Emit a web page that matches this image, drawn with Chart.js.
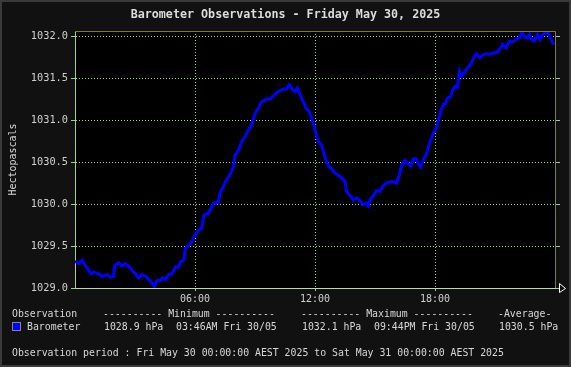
<!DOCTYPE html>
<html lang="en">
<head>
    <meta charset="UTF-8">
    <title>Barometer Observations</title>
    <script src="https://cdn.jsdelivr.net/npm/chart.js"></script>
    <style>
        body {
            margin: 0;
            background: #111;
        }

        .frame {
            position: absolute;
            left: 0;
            top: 0;
            width: 571px;
            height: 367px;
            box-sizing: border-box;
            border: 2px solid #3a3a3a;
            background: #111;
        }

        canvas {
            position: absolute;
            left: 0;
            top: 0;
        }

        .txt {
            position: absolute;
            font-family: 'DejaVu Sans Mono', monospace;
            font-size: 9.85px;
            color: #d8d8d8;
            white-space: pre;
            line-height: 12px;
        }

        .title {
            position: absolute;
            left: 0;
            width: 571px;
            top: 7px;
            text-align: center;
            font-family: 'DejaVu Sans Mono', monospace;
            font-weight: bold;
            font-size: 11.7px;
            color: #dcdcdc;
            white-space: pre;
        }

        .swatch {
            position: absolute;
            left: 12px;
            top: 322px;
            width: 7px;
            height: 7px;
            background: #0000ff;
            border: 1px solid #888;
        }
    </style>
</head>
<body>

    <div class="frame"></div>
    <canvas id="baroChart" width="571" height="367"></canvas>

    <div class="title">Barometer Observations - Friday May 30, 2025</div>

    <div class="txt" style="left:12px; top:308px;">Observation</div>
    <div class="txt" style="left:103px; top:308px;">---------- Minimum ----------</div>
    <div class="txt" style="left:301px; top:308px;">---------- Maximum ----------</div>
    <div class="txt" style="left:498px; top:308px;">-Average-</div>

    <div class="swatch"></div>
    <div class="txt" style="left:27px; top:321px;">Barometer</div>
    <div class="txt" style="left:104px; top:321px;">1028.9 hPa</div>
    <div class="txt" style="left:176px; top:321px;">03:46AM Fri 30/05</div>
    <div class="txt" style="left:302px; top:321px;">1032.1 hPa</div>
    <div class="txt" style="left:374px; top:321px;">09:44PM Fri 30/05</div>
    <div class="txt" style="left:499px; top:321px;">1030.5 hPa</div>

    <div class="txt" style="left:12px; top:347px;">Observation period : Fri May 30 00:00:00 AEST 2025 to Sat May 31 00:00:00 AEST 2025</div>

    <script>
        // time of day in hours
        const hours = [
            0.00, 0.18, 0.35, 0.52, 0.68, 0.80, 0.93, 1.18, 1.35, 1.60,
            1.77, 1.93, 1.98, 2.18, 2.35, 2.52, 2.68, 2.85, 3.02, 3.18,
            3.35, 3.52, 3.68, 3.85, 3.97, 4.10, 4.27, 4.38, 4.52, 4.68,
            4.85, 5.02, 5.18, 5.27, 5.43, 5.52, 5.68, 5.80, 6.00, 6.17,
            6.33, 6.45, 6.67, 6.92, 7.17, 7.25, 7.42, 7.58, 7.75, 7.92,
            8.00, 8.17, 8.33, 8.50, 8.67, 8.83, 9.00, 9.17, 9.33, 9.58,
            9.75, 9.92, 10.17, 10.42, 10.58, 10.70, 10.83, 11.00, 11.12, 11.25,
            11.42, 11.55, 11.72, 11.83, 11.92, 12.00, 12.17, 12.33, 12.45, 12.58,
            12.72, 12.83, 12.95, 13.12, 13.33, 13.50, 13.58, 13.75, 13.92, 14.08,
            14.25, 14.42, 14.58, 14.67, 14.75, 14.92, 15.08, 15.25, 15.38, 15.58,
            15.83, 16.08, 16.22, 16.33, 16.50, 16.67, 16.78, 16.92, 17.05, 17.17,
            17.28, 17.42, 17.58, 17.72, 17.92, 18.08, 18.17, 18.28, 18.42, 18.55,
            18.62, 18.78, 18.88, 19.00, 19.12, 19.22, 19.33, 19.50, 19.67, 19.83,
            19.97, 20.08, 20.25, 20.42, 20.58, 20.75, 20.92, 21.08, 21.25, 21.38,
            21.55, 21.72, 21.88, 22.05, 22.22, 22.35, 22.50, 22.62, 22.72, 22.83,
            22.95, 23.12, 23.25, 23.38, 23.55, 23.67, 23.78, 23.95
        ];

        // barometer in hPa
        const pressure = [
            1029.32, 1029.29, 1029.33, 1029.27, 1029.21, 1029.17, 1029.19, 1029.17, 1029.14, 1029.16,
            1029.13, 1029.14, 1029.27, 1029.30, 1029.26, 1029.29, 1029.26, 1029.21, 1029.17, 1029.12,
            1029.16, 1029.14, 1029.10, 1029.06, 1029.02, 1029.09, 1029.09, 1029.12, 1029.10, 1029.16,
            1029.17, 1029.25, 1029.25, 1029.31, 1029.33, 1029.47, 1029.51, 1029.54, 1029.63, 1029.69,
            1029.71, 1029.87, 1029.89, 1030.01, 1030.02, 1030.13, 1030.21, 1030.29, 1030.35, 1030.44,
            1030.58, 1030.64, 1030.74, 1030.80, 1030.88, 1030.94, 1031.08, 1031.14, 1031.22, 1031.25,
            1031.25, 1031.29, 1031.34, 1031.37, 1031.37, 1031.42, 1031.38, 1031.34, 1031.38, 1031.30,
            1031.22, 1031.14, 1031.10, 1031.02, 1030.96, 1030.88, 1030.74, 1030.70, 1030.60, 1030.50,
            1030.44, 1030.42, 1030.38, 1030.35, 1030.31, 1030.27, 1030.15, 1030.10, 1030.05, 1030.07,
            1030.04, 1029.99, 1030.01, 1029.98, 1030.05, 1030.10, 1030.16, 1030.15, 1030.21, 1030.25,
            1030.27, 1030.25, 1030.35, 1030.46, 1030.52, 1030.48, 1030.45, 1030.54, 1030.54, 1030.48,
            1030.44, 1030.53, 1030.60, 1030.72, 1030.85, 1030.91, 1031.00, 1031.10, 1031.19, 1031.20,
            1031.26, 1031.28, 1031.35, 1031.40, 1031.39, 1031.58, 1031.52, 1031.58, 1031.63, 1031.68,
            1031.76, 1031.79, 1031.74, 1031.78, 1031.79, 1031.78, 1031.80, 1031.80, 1031.85, 1031.90,
            1031.86, 1031.94, 1031.93, 1031.96, 1031.98, 1032.05, 1031.98, 1031.98, 1032.02, 1031.96,
            1031.94, 1032.02, 1031.96, 1032.02, 1032.04, 1032.04, 1031.97, 1031.90
        ];

        const yTicks = [1029.0, 1029.5, 1030.0, 1030.5, 1031.0, 1031.5, 1032.0];
        const xTicks = [6, 12, 18];
        const xTickLabels = ['06:00', '12:00', '18:00'];

        const gridGreen = '#98d098';

        // black plot area, olive frame, right-hand ticks and the arrow on the time axis
        const plotDecor = {
            id: 'plotDecor',
            beforeDraw(chart) {
                const a = chart.chartArea;
                const ctx = chart.ctx;
                ctx.save();
                ctx.fillStyle = '#000';
                ctx.fillRect(a.left, a.top, a.right - a.left, a.bottom - a.top);
                ctx.restore();
            },
            afterDraw(chart) {
                const a = chart.chartArea;
                const ctx = chart.ctx;
                const y = chart.scales.y;
                ctx.save();
                ctx.lineWidth = 1;
                ctx.strokeStyle = '#7c7c38';
                ctx.beginPath();
                ctx.moveTo(a.left, a.top + 0.5);
                ctx.lineTo(a.right + 0.5, a.top + 0.5);
                ctx.lineTo(a.right + 0.5, a.bottom);
                ctx.stroke();

                ctx.strokeStyle = gridGreen;
                yTicks.forEach(v => {
                    const py = Math.round(y.getPixelForValue(v)) + 0.5;
                    ctx.beginPath();
                    ctx.moveTo(a.right + 1, py);
                    ctx.lineTo(a.right + 5, py);
                    ctx.stroke();
                });

                ctx.strokeStyle = '#ffffff';
                ctx.beginPath();
                ctx.moveTo(a.right + 4.5, a.bottom - 4.5);
                ctx.lineTo(a.right + 10.5, a.bottom + 0.5);
                ctx.lineTo(a.right + 4.5, a.bottom + 4.5);
                ctx.closePath();
                ctx.stroke();
                ctx.restore();
            }
        };

        const ctx = document.getElementById('baroChart').getContext('2d');
        const chart = new Chart(ctx, {
            type: 'line',
            data: {
                datasets: [{
                    label: 'Barometer',
                    data: hours.map((h, i) => ({ x: h, y: pressure[i] })),
                    borderColor: '#0000ff',
                    borderWidth: 3,
                    pointRadius: 0,
                    tension: 0,
                    fill: false
                }]
            },
            options: {
                responsive: false,
                animation: false,
                layout: {
                    padding: { top: 31, right: 16, bottom: 59, left: 0 }
                },
                plugins: {
                    legend: { display: false },
                    title: { display: false },
                    tooltip: { enabled: false }
                },
                scales: {
                    x: {
                        type: 'linear',
                        min: 0,
                        max: 24,
                        afterBuildTicks: s => { s.ticks = xTicks.map(v => ({ value: v })); },
                        afterFit: s => { s.height = 20; },
                        ticks: {
                            color: '#d0d0d0',
                            font: { family: 'DejaVu Sans Mono', size: 10 },
                            padding: 2,
                            maxRotation: 0,
                            callback: (v) => xTickLabels[xTicks.indexOf(v)]
                        },
                        grid: {
                            color: gridGreen,
                            tickColor: gridGreen,
                            tickLength: 3,
                            tickBorderDash: []
                        },
                        border: {
                            color: '#c4d4bc',
                            width: 1,
                            dash: [1, 2]
                        }
                    },
                    y: {
                        min: 1029.0,
                        max: 1032.06,
                        afterBuildTicks: s => { s.ticks = yTicks.map(v => ({ value: v })); },
                        afterFit: s => { s.width = 75; },
                        ticks: {
                            color: '#d0d0d0',
                            font: { family: 'DejaVu Sans Mono', size: 10.3 },
                            padding: 3,
                            callback: v => v.toFixed(1)
                        },
                        grid: {
                            color: gridGreen,
                            tickColor: gridGreen,
                            tickLength: 4,
                            tickBorderDash: []
                        },
                        border: {
                            color: '#a8d080',
                            width: 1,
                            dash: [1, 2]
                        },
                        title: {
                            display: true,
                            text: 'Hectopascals',
                            color: '#d8d8d8',
                            font: { family: 'DejaVu Sans Mono', size: 10 },
                            padding: { top: 7, bottom: 0 }
                        }
                    }
                }
            },
            plugins: [plotDecor]
        });
    </script>

</body>
</html>
